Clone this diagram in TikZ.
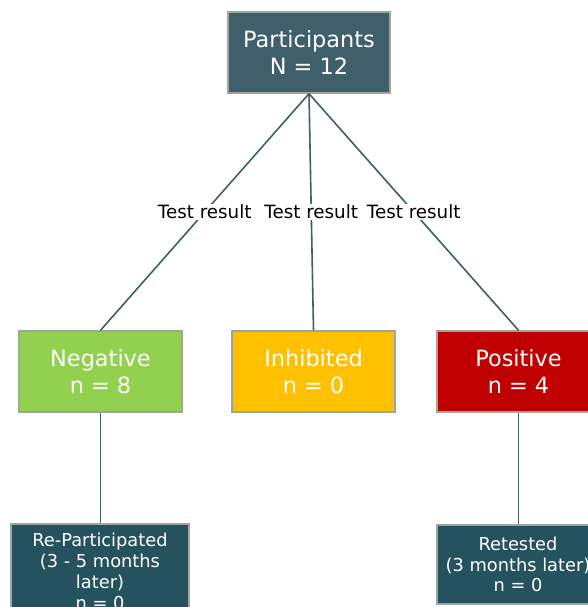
\documentclass[tikz,border=0pt]{standalone}
\usepackage{fontspec}
\setmainfont{DejaVu Sans}
\definecolor{topteal}{HTML}{3F5F6B}
\definecolor{deepteal}{HTML}{24535F}
\definecolor{boxedge}{HTML}{9EA69E}
\definecolor{okgreen}{HTML}{92D050}
\definecolor{amber}{HTML}{FFC000}
\definecolor{alarm}{HTML}{C00000}
\definecolor{linkcol}{HTML}{3F5F6B}
\tikzset{
  groupbox/.style={draw=boxedge, line width=1.4pt, text=white, align=center,
    minimum width=163pt, minimum height=81pt, inner sep=2pt,
    font=\fontsize{22.4}{27}\selectfont},
  subbox/.style={draw=boxedge, line width=1.4pt, fill=deepteal, text=white, align=center,
    inner sep=2pt, font=\fontsize{17.8}{20.8}\selectfont},
  link/.style={draw=linkcol, line width=1.6pt},
  linklabel/.style={fill=white, text=black, inner sep=1pt,
    font=\fontsize{18.3}{20}\selectfont}
}
\begin{document}
\begin{tikzpicture}[x=1pt,y=-1pt]
\useasboundingbox (0,0) rectangle (588,607);
\clip (0,0) rectangle (588,607);
\fill[white] (0,0) rectangle (588,607);

\node[groupbox, fill=topteal, minimum width=162pt] (all) at (309,52.5) {Participants\\N = 12};
\node[groupbox, fill=okgreen] (neg) at (100.5,371.5) {Negative\\n = 8};
\node[groupbox, fill=amber] (inh) at (313.5,371.5) {Inhibited\\n = 0};
\node[groupbox, fill=alarm] (pos) at (518.5,371.5) {Positive\\n = 4};

\node[subbox, minimum width=178pt, minimum height=95pt] (repart) at (100,571.5)
  {Re-Participated\\(3 - 5 months\\later)\\n = 0};
\node[subbox, minimum width=162pt, minimum height=79pt] (retest) at (518,564.5)
  {Retested\\(3 months later)\\n = 0};

\path[link] (all.south) -- (neg.north) node[midway, linklabel] {Test result};
\path[link] (all.south) -- (inh.north) node[midway, linklabel] {Test result};
\path[link] (all.south) -- (pos.north) node[midway, linklabel] {Test result};
\path[link] (neg.south) -- (neg.south |- repart.north);
\path[link] (pos.south) -- (pos.south |- retest.north);
\end{tikzpicture}
\end{document}
